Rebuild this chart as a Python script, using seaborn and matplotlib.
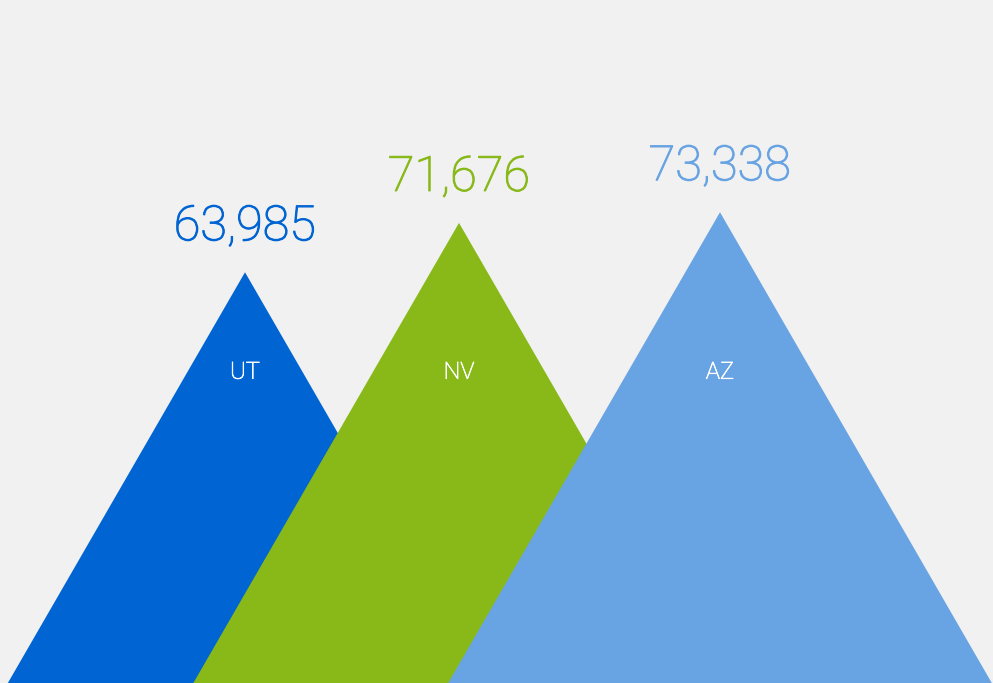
import matplotlib

matplotlib.use("Agg")

import matplotlib.patheffects as pe
import matplotlib.pyplot as plt
import numpy as np
import seaborn as sns

states = ["UT", "NV", "AZ"]
visitors = [63985, 71676, 73338]
colors = ["#0064D2", "#88B919", "#68A3E3"]

# layout (figure pixels)
peak_x = [245, 459, 720]
fig_w, fig_h = 993, 683
y_top = 106400  # value shown at the top edge of the figure

sns.set_theme(style="white")
plt.rcParams["font.family"] = ["Roboto", "DejaVu Sans"]

fig = plt.figure(figsize=(fig_w / 100, fig_h / 100), dpi=100)
fig.patch.set_facecolor("#F1F1F1")
ax = fig.add_axes([0, 0, 1, 1])
ax.set_facecolor("#F1F1F1")
ax.set_xlim(0, fig_w)
ax.set_ylim(0, y_top)

px_per_unit = fig_h / y_top
for state, value, color, cx in zip(states, visitors, colors, peak_x):
    half = value * px_per_unit / np.sqrt(3)
    ax.fill([cx - half, cx, cx + half], [0, value, 0], color=color, lw=0)
    ax.annotate(
        f"{value:,}",
        xy=(cx, value),
        xytext=(0, 22),
        textcoords="offset pixels",
        ha="center",
        va="bottom",
        fontsize=35,
        fontweight="light",
        color=color,
        path_effects=[pe.withStroke(linewidth=0.8, foreground=color)],
    )
    ax.text(
        cx,
        0.455,
        state,
        transform=ax.get_xaxis_transform(),
        ha="center",
        va="center",
        fontsize=17,
        fontweight="light",
        color="white",
        path_effects=[pe.withStroke(linewidth=0.5, foreground="white")],
    )

ax.set_axis_off()
fig.savefig("out.png", dpi=100, facecolor=fig.get_facecolor())
